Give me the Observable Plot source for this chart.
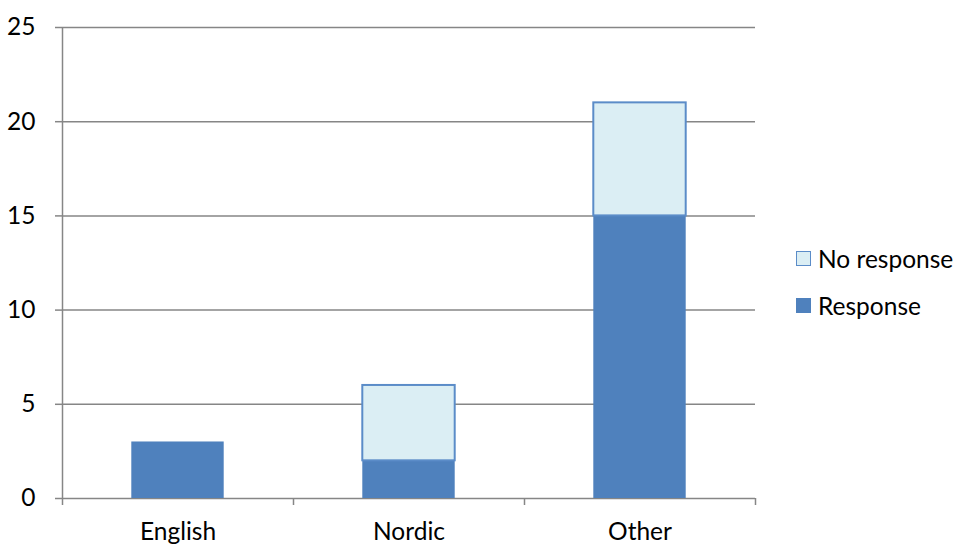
<!DOCTYPE html>
<html>
<head>
<meta charset="utf-8">
<script src="https://cdn.jsdelivr.net/npm/d3@7"></script>
<script src="https://cdn.jsdelivr.net/npm/@observablehq/plot@0.6"></script>
<style>
  html, body { margin: 0; padding: 0; background: #fff; }
  #wrap { position: relative; width: 957px; height: 545px; font-family: Lato, "Open Sans", sans-serif; }
  #legend { position: absolute; left: 796px; top: 235px; font-size: 24.5px; color: #000; }
  .item { display: flex; align-items: center; height: 47px; }
  .sw { width: 15px; height: 15px; margin-right: 7px; box-sizing: border-box; }
</style>
</head>
<body>
<div id="wrap"></div>
<script>
const categories = ["English", "Nordic", "Other"];
const response = [3, 2, 15];
const noResponse = [0, 4, 6];
const series = ["Response", "No response"];
const yTicks = [0, 5, 10, 15, 20, 25];

const colors = { "Response": "#4F81BD", "No response": "#DBEEF4" };

const rows = [];
categories.forEach((c, i) => {
  rows.push({ cat: c, i, series: "Response", y1: 0, y2: response[i] });
  if (noResponse[i] > 0) rows.push({ cat: c, i, series: "No response", y1: response[i], y2: response[i] + noResponse[i] });
});

const chart = Plot.plot({
  width: 957,
  height: 545,
  marginLeft: 62,
  marginRight: 202,
  marginTop: 27,
  marginBottom: 47,
  style: { fontFamily: "Lato, 'Open Sans', sans-serif", fontSize: "24.5px", color: "#000", background: "#fff" },
  x: { type: "linear", domain: [0, categories.length] },
  y: { domain: [0, 25] },
  marks: [
    Plot.ruleY(yTicks, { stroke: "#868686", strokeWidth: 1.5, strokeOpacity: 1 }),
    Plot.ruleX([0], { stroke: "#868686", strokeWidth: 1.5 }),
    Plot.axisY({ ticks: yTicks, tickSize: 7, tickPadding: 20, stroke: "#868686", strokeWidth: 1.5, fill: "#000", label: null }),
    Plot.axisX({ ticks: d3.range(categories.length + 1), tickSize: 7, tickFormat: () => "", stroke: "#868686", strokeWidth: 1.5, label: null }),
    Plot.axisX({ ticks: categories.map((c, i) => i + 0.5), tickSize: 0, tickPadding: 24, tickFormat: (d) => categories[Math.floor(d)], fill: "#000", label: null }),
    Plot.rect(rows, {
      x1: (d) => d.i + 0.3,
      x2: (d) => d.i + 0.7,
      y1: "y1",
      y2: "y2",
      fill: (d) => colors[d.series],
      stroke: (d) => d.series === "No response" ? "#5B8CC8" : "none",
      strokeWidth: 2
    })
  ]
});

const wrap = document.getElementById("wrap");
wrap.appendChild(chart);

const legend = document.createElement("div");
legend.id = "legend";
["No response", "Response"].forEach((s) => {
  const it = document.createElement("div");
  it.className = "item";
  const sw = document.createElement("span");
  sw.className = "sw";
  sw.style.background = colors[s];
  sw.style.border = s === "No response" ? "1.5px solid #5B8CC8" : "none";
  const t = document.createElement("span");
  t.textContent = s;
  it.appendChild(sw);
  it.appendChild(t);
  legend.appendChild(it);
});
wrap.appendChild(legend);
</script>
</body>
</html>
